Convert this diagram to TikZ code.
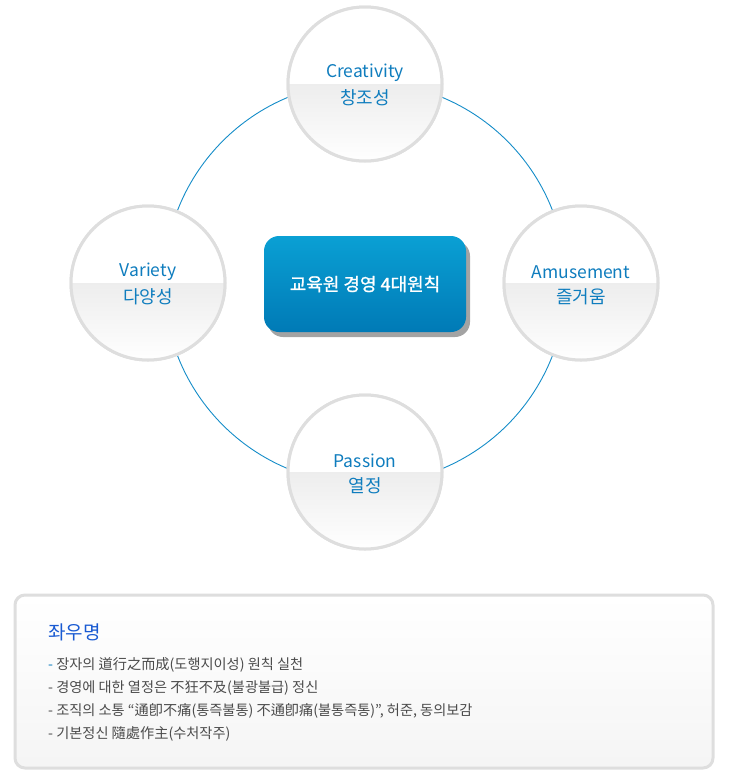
\documentclass[tikz,border=0pt]{standalone}
\usepackage{fontspec}
\setmainfont{Noto Sans CJK KR}
\newfontfamily\corefont{Noto Sans CJK KR}[FakeBold=1.2]
\usetikzlibrary{shadows}
\usetikzlibrary{positioning}
\usetikzlibrary{calc}
\definecolor{ringblue}{RGB}{20,140,200}
\definecolor{textblue}{RGB}{15,125,190}
\definecolor{titleblue}{RGB}{25,90,210}
\definecolor{rimgray}{RGB}{222,222,222}
\definecolor{boxtop}{RGB}{10,160,212}
\definecolor{boxbottom}{RGB}{0,122,182}
\definecolor{listgray}{RGB}{75,75,75}
\tikzstyle{value}=[circle,draw=rimgray,line width=3pt,minimum size=154pt,inner sep=0pt]
\tikzstyle{ring} = [draw=ringblue,line width=0.9pt]
\tikzstyle{english} = [font=\fontsize{17.5}{20}\selectfont,text=textblue,inner sep=0pt]
\tikzstyle{korean} = [font=\fontsize{18}{20}\selectfont,text=textblue,inner sep=0pt]
\tikzstyle{core} = [rounded corners=15pt,minimum width=202pt,minimum height=96pt,top color=boxtop,bottom color=boxbottom,
  drop shadow={shadow xshift=4pt,shadow yshift=-5pt,opacity=0.45,fill=black!80},text=white,font=\corefont\fontsize{18}{20}\selectfont]
\tikzstyle{motto} = [rounded corners=10pt,draw=rimgray,line width=3pt,top color=white,bottom color=black!4]
\tikzstyle{item} = [anchor=west,text=listgray,font=\fontsize{14.2}{16}\selectfont,inner sep=0pt]

\begin{document}
\begin{tikzpicture}[x=1pt,y=-1pt]
    \useasboundingbox (0,0) rectangle (732,780);

    % ring behind the four values
    \coordinate (hub) at (365,283);
    \draw[ring] (hub) circle (201pt);

    \foreach \pos/\name/\eng/\kor in {{(365,84)/creativity/Creativity/창조성}, {(148,283)/variety/Variety/다양성},
        {(581,283)/amusement/Amusement/즐거움}, {(365,472)/passion/Passion/열정}}
    {
        \node[value] (\name) at \pos {};
        \begin{scope}
            \clip (\name.center) circle (77pt);
            \fill[white] (\name.center) circle (77pt);
            \shade[top color=black!7,bottom color=white] ($(\name.center)+(-78,0)$) rectangle ($(\name.center)+(78,78)$);
        \end{scope}
        \draw[rimgray,line width=3pt] (\name.center) circle (77pt);
        \node[english] (\name-eng) at ($(\name.center)+(0,-11)$) {\eng};
        \node[korean] (\name-kor) at ($(\name.center)+(0,14)$) {\kor};
    }

    \node[core] (center) at (365,284) {교육원 경영 4대원칙};

    % motto box
    \path[motto] (15,595) rectangle (713,768);
    \node[anchor=west,text=titleblue,font=\fontsize{19}{22}\selectfont,inner sep=0pt] (motto) at (48,632) {좌우명};
    \node[item] (line1) at (48,665) {{\color{textblue}-} 장자의 道行之而成(도행지이성) 원칙 실천};
    \node[item] (line2) at (48,688) {- 경영에 대한 열정은 不狂不及(불광불급) 정신};
    \node[item] (line3) at (48,711) {- 조직의 소통 “通卽不痛(통즉불통) 不通卽痛(불통즉통)”, 허준, 동의보감};
    \node[item] (line4) at (48,734) {- 기본정신 隨處作主(수처작주)};
\end{tikzpicture}
\end{document}
